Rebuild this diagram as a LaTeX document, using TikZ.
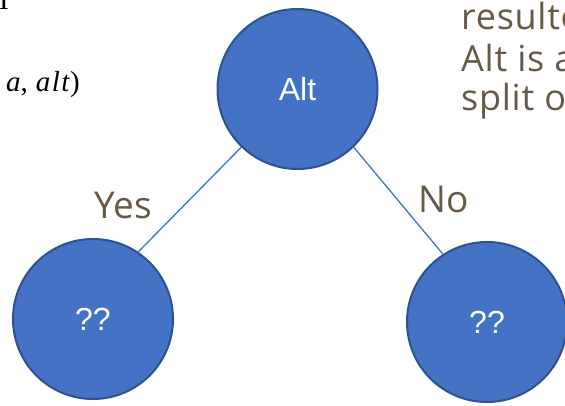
\documentclass[tikz,border=0pt]{standalone}
\usepackage{fontspec}
\newfontfamily\arialfont{Liberation Sans}
\newfontfamily\slidefont{Open Sans}
\newfontfamily\sidefont[LetterSpace=2]{Open Sans}
\newfontfamily\formulafont{Liberation Serif}
\definecolor{nodeblue}{HTML}{4472C4}
\definecolor{nodeedge}{HTML}{2F528F}
\definecolor{slidetext}{HTML}{665A46}

\begin{document}
\begin{tikzpicture}[x=1pt, y=-1pt]
        \tikzstyle{tnode}=[circle, draw=nodeedge, line width=2pt, fill=nodeblue, minimum size=160pt, inner sep=0pt, text=white, font=\arialfont\fontsize{32}{38}\selectfont];
        \tikzstyle{lbl}=[anchor=base, inner sep=0pt, text=slidetext, font=\slidefont\fontsize{37}{44}\selectfont];
        \tikzstyle{side}=[anchor=base west, inner sep=0pt, text=slidetext, font=\sidefont\fontsize{36}{42}\selectfont];
        \tikzstyle{formula}=[inner sep=0pt, font=\formulafont\fontsize{29}{34}\selectfont];
        \tikzstyle{edge}=[draw=nodeblue, line width=1.3pt];

        \useasboundingbox (0,0) rectangle (565,406);
        \clip (0,0) rectangle (565,406);

        % slide text cut off by the crop
        \node[formula, anchor=base west] (head) at (-1,10) {I};
        \node[formula, anchor=base east] (args) at (80,92) {\textit{a},\;\textit{a\kern1.5pt l\kern1.5pt t})};
        \node[side] (line1) at (461,30) {resulte};
        \node[side] (line2) at (461,72) {Alt is a};
        \node[side] (line3) at (461,111) {split o};

        \node[tnode] (alt) at (297.5,89) {Alt};
        \node[tnode] (yesleaf) at (93,319) {??};
        \node[tnode] (noleaf) at (487,322) {??};

        \node[lbl] (yes) at (123.5,219) {Yes};
        \node[lbl] (no) at (443.5,213) {No};

        \draw[edge] (alt.226) -- (yesleaf.56);
        \draw[edge] (alt.314) -- (noleaf.123);
    \end{tikzpicture}
\end{document}
